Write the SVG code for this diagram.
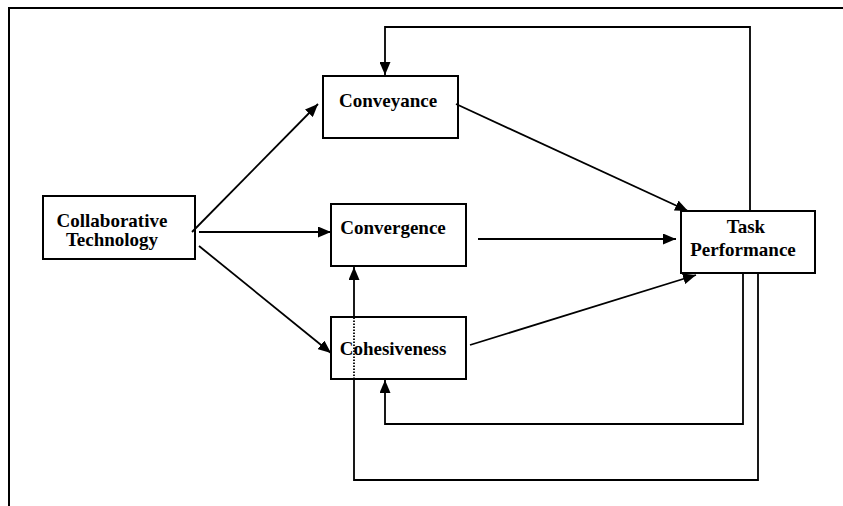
<svg xmlns="http://www.w3.org/2000/svg" width="843" height="506" viewBox="0 0 843 506">
<style>
.box{fill:#fff;stroke:#000;stroke-width:2}
.lbl{font-family:"Liberation Serif","Times New Roman",serif;font-weight:bold;font-size:19px;fill:#000;text-anchor:middle}
.c{fill:none;stroke:#000;stroke-width:1.8}
.frame{fill:none;stroke:#000;stroke-width:2}
</style>
<defs>
<marker id="ah" markerUnits="userSpaceOnUse" markerWidth="13" markerHeight="11" viewBox="0 0 13 11" refX="13" refY="5.5" orient="auto">
<path d="M0,0 L13,5.5 L0,11 z" fill="#000"/>
</marker>
</defs>
<path class="frame" d="M9,506 V8 H843"/>
<g id="nodes">
<g id="collab"><rect class="box" x="43" y="196" width="152" height="63"/><text class="lbl" x="112" y="227">Collaborative</text><text class="lbl" x="112" y="246">Technology</text></g>
<g id="conveyance"><rect class="box" x="323" y="76" width="135" height="62"/><text class="lbl" x="388" y="107">Conveyance</text></g>
<g id="convergence"><rect class="box" x="331" y="204" width="135" height="62"/><text class="lbl" x="393" y="234">Convergence</text></g>
<g id="cohesiveness"><rect class="box" x="331" y="317" width="135" height="62"/><text class="lbl" x="393" y="355">Cohesiveness</text></g>
<g id="task"><rect class="box" x="681" y="211" width="134" height="62"/><text class="lbl" x="746" y="233">Task</text><text class="lbl" x="743" y="256">Performance</text></g>
</g>
<g id="connectors">
<path class="c" d="M192,232 L318,104" marker-end="url(#ah)"/>
<path class="c" d="M199,232 L331,232" marker-end="url(#ah)"/>
<path class="c" d="M199,246 L331,353" marker-end="url(#ah)"/>
<path class="c" d="M456,104 L688,211" marker-end="url(#ah)"/>
<path class="c" d="M478,239 L676,239" marker-end="url(#ah)"/>
<path class="c" d="M470,345 L696,275" marker-end="url(#ah)"/>
<path class="c" d="M750,211 V27 H385 V75" marker-end="url(#ah)"/>
<path class="c" d="M743,273 V424 H385 V380" marker-end="url(#ah)"/>
<path class="c" d="M758,273 V480 H354 V379"/>
<path class="c" d="M354,379 V317" stroke-dasharray="1.5,1.5" stroke-width="1"/>
<path class="c" d="M354,317 V267" marker-end="url(#ah)"/>
</g>
</svg>
